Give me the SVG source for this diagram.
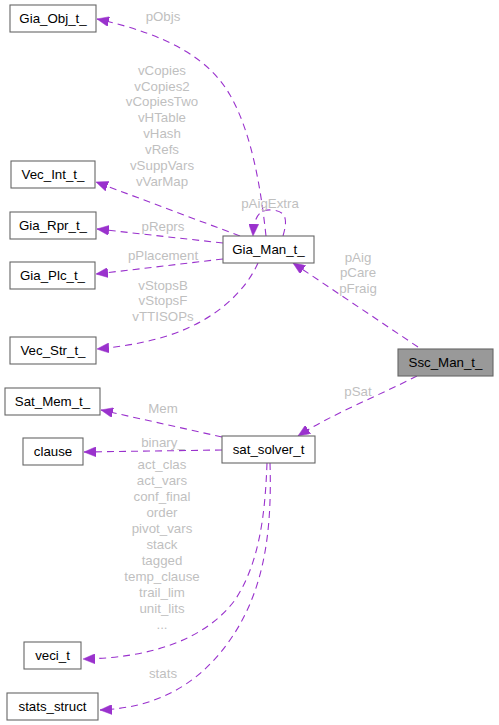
<svg xmlns="http://www.w3.org/2000/svg" width="499" height="725" viewBox="0 0 499 725">
<style>
.node rect{fill:#ffffff;stroke:#666666;stroke-width:1.1}
.node text{font-family:"Liberation Sans",Arial,sans-serif;font-size:13.3px;fill:#000000;text-anchor:middle}
.edge path{fill:none;stroke:#9a32cd;stroke-width:1.1;stroke-dasharray:7,5}
.lbl{font-family:"Liberation Sans",Arial,sans-serif;font-size:13.3px;fill:#bfbfbf;text-anchor:middle}
</style>
<defs>
<marker id="ah" viewBox="0 0 12 10" refX="12" refY="5" markerWidth="12" markerHeight="10" markerUnits="userSpaceOnUse" orient="auto">
<path d="M0,0 L12,5 L0,10 Z" fill="#9a32cd" stroke="#9a32cd" stroke-width="0.5"/>
</marker>
</defs>
<rect width="499" height="725" fill="#ffffff"/>
<g id="edges" class="edge">
<path d="M266,236 C260,180 250,130 230,95 C210,60 170,35 97,19" marker-end="url(#ah)"/>
<path d="M283,236 C287,222 288,211 272,210 C258,209 254,218 253,236" marker-end="url(#ah)"/>
<path d="M240,236 L96,182" marker-end="url(#ah)"/>
<path d="M223,243 L97,229" marker-end="url(#ah)"/>
<path d="M223,259 L96,274" marker-end="url(#ah)"/>
<path d="M258,263 C245,292 215,320 170,335 C145,343 120,347 97,349" marker-end="url(#ah)"/>
<path d="M418,347 L293,263" marker-end="url(#ah)"/>
<path d="M417,376 C380,395 330,415 298,436" marker-end="url(#ah)"/>
<path d="M222,437 L101,410" marker-end="url(#ah)"/>
<path d="M222,450 L84,452" marker-end="url(#ah)"/>
<path d="M267,463 C265,520 258,565 235,600 C205,640 150,658 83,659" marker-end="url(#ah)"/>
<path d="M270,463 C272,530 265,590 230,640 C195,690 150,708 100,710" marker-end="url(#ah)"/>
</g>
<g id="edge-labels">
<text class="lbl" x="163" y="20.5">pObjs</text>
<text class="lbl" x="162" y="74.5">vCopies</text>
<text class="lbl" x="162" y="90.5">vCopies2</text>
<text class="lbl" x="162" y="106">vCopiesTwo</text>
<text class="lbl" x="162" y="122">vHTable</text>
<text class="lbl" x="162" y="138">vHash</text>
<text class="lbl" x="162" y="154">vRefs</text>
<text class="lbl" x="162" y="170">vSuppVars</text>
<text class="lbl" x="162" y="186">vVarMap</text>
<text class="lbl" x="270" y="207.5">pAigExtra</text>
<text class="lbl" x="163" y="231">pReprs</text>
<text class="lbl" x="163" y="259.5">pPlacement</text>
<text class="lbl" x="163" y="289.5">vStopsB</text>
<text class="lbl" x="163" y="305">vStopsF</text>
<text class="lbl" x="163" y="320.5">vTTISOPs</text>
<text class="lbl" x="358" y="261.5">pAig</text>
<text class="lbl" x="358" y="277">pCare</text>
<text class="lbl" x="358" y="292.5">pFraig</text>
<text class="lbl" x="358" y="396">pSat</text>
<text class="lbl" x="163" y="413">Mem</text>
<text class="lbl" x="163" y="446.5">binary_</text>
<text class="lbl" x="162" y="468.5">act_clas</text>
<text class="lbl" x="162" y="484.5">act_vars</text>
<text class="lbl" x="162" y="500.5">conf_final</text>
<text class="lbl" x="162" y="516.5">order</text>
<text class="lbl" x="162" y="532.5">pivot_vars</text>
<text class="lbl" x="162" y="548.5">stack</text>
<text class="lbl" x="162" y="564.5">tagged</text>
<text class="lbl" x="162" y="580.5">temp_clause</text>
<text class="lbl" x="162" y="596.5">trail_lim</text>
<text class="lbl" x="162" y="612.5">unit_lits</text>
<text class="lbl" x="162" y="628.5">...</text>
<text class="lbl" x="163" y="677.5">stats</text>
</g>
<g id="Gia_Obj_t_" class="node"><rect x="10" y="5" width="86" height="27"/><text x="53" y="23">Gia_Obj_t_</text></g>
<g id="Vec_Int_t_" class="node"><rect x="11" y="161" width="84" height="27"/><text x="53" y="179">Vec_Int_t_</text></g>
<g id="Gia_Rpr_t_" class="node"><rect x="10" y="212" width="86" height="27"/><text x="53" y="230">Gia_Rpr_t_</text></g>
<g id="Gia_Plc_t_" class="node"><rect x="10" y="262" width="85" height="27"/><text x="52.5" y="280">Gia_Plc_t_</text></g>
<g id="Vec_Str_t_" class="node"><rect x="10" y="337" width="86" height="27"/><text x="53" y="355">Vec_Str_t_</text></g>
<g id="Gia_Man_t_" class="node"><rect x="223" y="236" width="91" height="27"/><text x="268.5" y="254">Gia_Man_t_</text></g>
<g id="Ssc_Man_t_" class="node"><rect x="398" y="349" width="95" height="27" style="fill:#999999"/><text x="445.5" y="367">Ssc_Man_t_</text></g>
<g id="Sat_Mem_t_" class="node"><rect x="5" y="388" width="95" height="27"/><text x="52.5" y="406">Sat_Mem_t_</text></g>
<g id="clause" class="node"><rect x="23" y="438" width="60" height="27"/><text x="53" y="456">clause</text></g>
<g id="sat_solver_t" class="node"><rect x="222" y="436" width="93" height="27"/><text x="268.5" y="454">sat_solver_t</text></g>
<g id="veci_t" class="node"><rect x="24" y="642" width="57" height="27"/><text x="52.5" y="660">veci_t</text></g>
<g id="stats_struct" class="node"><rect x="7" y="693" width="91" height="27"/><text x="52.5" y="711">stats_struct</text></g>
</svg>
